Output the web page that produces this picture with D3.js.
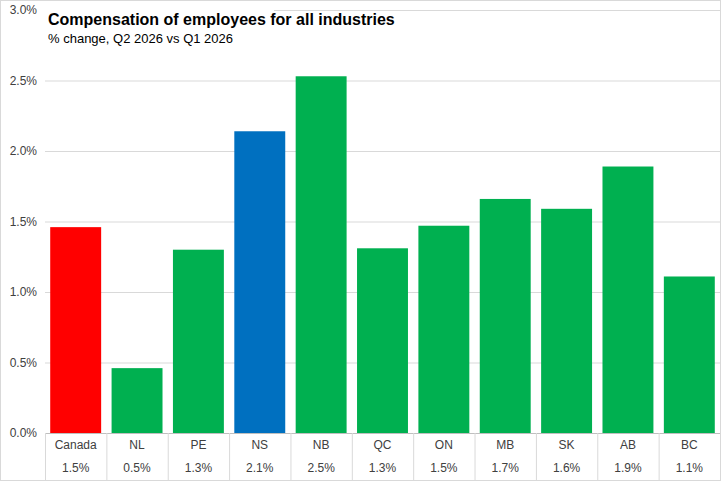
<!DOCTYPE html>
<html>
<head>
<meta charset="utf-8">
<script src="https://cdn.jsdelivr.net/npm/d3@7"></script>
<style>
  body { margin: 0; background: #fff; }
  text { font-family: "Liberation Sans", Arial, sans-serif; }
</style>
</head>
<body>
<svg id="chart" width="721" height="481"></svg>
<script>
// data
const regions = ['Canada', 'NL', 'PE', 'NS', 'NB', 'QC', 'ON', 'MB', 'SK', 'AB', 'BC'];
const values = [1.46, 0.46, 1.30, 2.14, 2.53, 1.31, 1.47, 1.66, 1.59, 1.89, 1.11];
const valueLabels = ['1.5%', '0.5%', '1.3%', '2.1%', '2.5%', '1.3%', '1.5%', '1.7%', '1.6%', '1.9%', '1.1%'];
const yTicks = [0, 0.5, 1.0, 1.5, 2.0, 2.5, 3.0];

const colour = r => r === 'Canada' ? '#ff0000' : r === 'NS' ? '#0070c0' : '#00b050';

const svg = d3.select('#chart');
const plotLeft = 45, plotRight = 720, plotTop = 10, plotBottom = 433;

const x = d3.scaleBand().domain(regions).range([plotLeft, plotRight]).paddingInner(0.17).paddingOuter(0.085);
const y = d3.scaleLinear().domain([0, 3]).range([plotBottom, plotTop]);

// frame
svg.append('rect').attr('x', 0.5).attr('y', 0.5).attr('width', 720).attr('height', 480)
  .attr('fill', 'none').attr('stroke', '#d9d9d9');

// gridlines + y labels
svg.selectAll('.grid').data(yTicks).enter().append('line')
  .attr('x1', plotLeft).attr('x2', plotRight)
  .attr('y1', d => y(d) + 0.5).attr('y2', d => y(d) + 0.5)
  .attr('stroke', d => d === 0 ? '#bfbfbf' : '#d9d9d9');

svg.selectAll('.ylab').data(yTicks).enter().append('text')
  .attr('x', 37).attr('y', d => y(d) + 4)
  .attr('text-anchor', 'end').attr('font-size', 12).attr('fill', '#404040')
  .text(d => d.toFixed(1) + '%');

// bars
svg.selectAll('.bar').data(regions).enter().append('rect')
  .attr('x', d => x(d)).attr('width', x.bandwidth())
  .attr('y', (d, i) => y(values[i])).attr('height', (d, i) => plotBottom - y(values[i]))
  .attr('fill', colour);

// table under the axis
const step = x.step();
const edges = d3.range(regions.length + 1).map(i => plotLeft + i * step);
svg.selectAll('.div').data(edges).enter().append('line')
  .attr('x1', d => d + 0.5).attr('x2', d => d + 0.5)
  .attr('y1', plotBottom).attr('y2', 481)
  .attr('stroke', '#d9d9d9');

svg.selectAll('.cat').data(regions).enter().append('text')
  .attr('x', d => x(d) + x.bandwidth() / 2).attr('y', 449)
  .attr('text-anchor', 'middle').attr('font-size', 12).attr('fill', '#404040')
  .text(d => d);

svg.selectAll('.val').data(valueLabels).enter().append('text')
  .attr('x', (d, i) => x(regions[i]) + x.bandwidth() / 2).attr('y', 472)
  .attr('text-anchor', 'middle').attr('font-size', 12).attr('fill', '#404040')
  .text(d => d);

// titles
svg.append('rect').attr('x', 44).attr('y', 8).attr('width', 230).attr('height', 38).attr('fill', '#fff');
svg.append('text').attr('x', 48).attr('y', 25).attr('font-size', 16).attr('font-weight', 'bold')
  .attr('fill', '#000').text('Compensation of employees for all industries');
svg.append('text').attr('x', 48).attr('y', 43).attr('font-size', 13).attr('fill', '#000')
  .text('% change, Q2 2026 vs Q1 2026');
</script>
</body>
</html>
